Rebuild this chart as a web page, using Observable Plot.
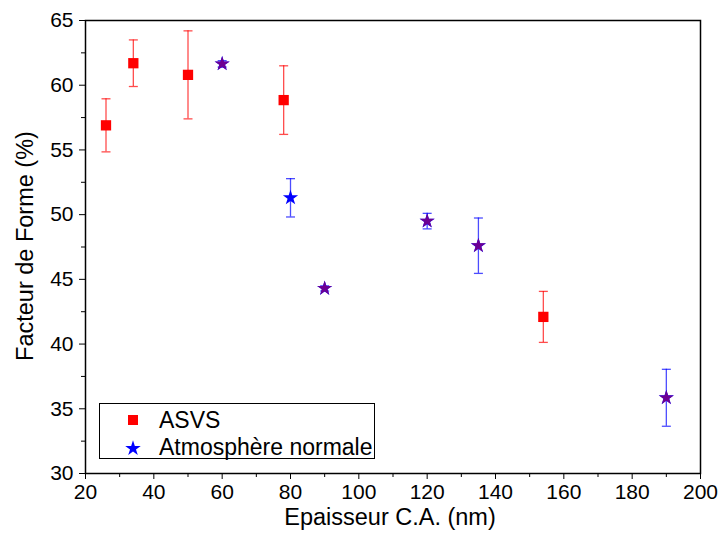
<!DOCTYPE html>
<html><head><meta charset="utf-8">
<script src="https://cdn.jsdelivr.net/npm/d3@7"></script>
<script src="https://cdn.jsdelivr.net/npm/@observablehq/plot@0.6"></script>
<style>
body{margin:0;background:#fff;font-family:"Liberation Sans",Arial,sans-serif}
#wrap{position:relative;width:723px;height:537px;overflow:hidden}
.lbl{position:absolute;font-size:23.5px;line-height:18px;white-space:nowrap;color:#000}
#legend{position:absolute;left:99px;top:403px;width:276px;height:56px;border:1px solid #000;box-sizing:border-box;background:#fff}
#legend svg{position:absolute;left:0;top:0}
</style></head><body><div id="wrap"></div>
<script>
// Data
const asvsX = [26, 34, 50, 78, 154];
const asvsY = [56.9, 61.7, 60.8, 58.85, 42.1];
const asvsErr = [2.05, 1.8, 3.4, 2.65, 1.97];
const atmX = [60, 80, 90, 120, 135, 190];
const atmY = [61.65, 51.3, 44.3, 49.5, 47.6, 35.85];
const atmErr = [0.25, 1.48, 0.2, 0.6, 2.14, 2.2];
const overlapX = [60, 90, 120, 135, 190];
const overlapY = [61.65, 44.3, 49.5, 47.6, 35.85];
const xTicks = [20, 40, 60, 80, 100, 120, 140, 160, 180, 200];
const xMinor = [30, 50, 70, 90, 110, 130, 150, 170, 190];
const yTicks = [30, 35, 40, 45, 50, 55, 60, 65];
const yMinor = [32.5, 37.5, 42.5, 47.5, 52.5, 57.5, 62.5];
const seriesNames = ["ASVS", "Atmosphère normale"];
const xTitle = "Epaisseur C.A. (nm)";
const yTitle = "Facteur de Forme (%)";

const asvs = asvsX.map((x, i) => ({x, y: asvsY[i], lo: asvsY[i] - asvsErr[i], hi: asvsY[i] + asvsErr[i]}));
const atm = atmX.map((x, i) => ({x, y: atmY[i], lo: atmY[i] - atmErr[i], hi: atmY[i] + atmErr[i]}));
const overlap = overlapX.map((x, i) => ({x, y: overlapY[i]}));

const cap = {draw(ctx, size) { const r = Math.sqrt(size / Math.PI); ctx.moveTo(-r, 0); ctx.lineTo(r, 0); }};

function errMarks(data, color) {
  return [
    Plot.ruleX(data, {x: "x", y1: "lo", y2: "hi", stroke: color, strokeOpacity: 0.7, strokeWidth: 1.3}),
    Plot.dot(data, {x: "x", y: "lo", symbol: cap, r: 4.5, stroke: color, strokeOpacity: 0.7, strokeWidth: 1.3, fill: "none"}),
    Plot.dot(data, {x: "x", y: "hi", symbol: cap, r: 4.5, stroke: color, strokeOpacity: 0.7, strokeWidth: 1.3, fill: "none"})
  ];
}

const chart = Plot.plot({
  width: 723, height: 537,
  marginLeft: 85, marginRight: 23, marginTop: 20, marginBottom: 64,
  style: {fontFamily: "Liberation Sans, Arial, sans-serif", fontSize: "21px", color: "#000", background: "#fff"},
  x: {domain: [20, 200]},
  y: {domain: [30, 65]},
  marks: [
    Plot.axisX({ticks: xTicks, tickSize: 6, tickPadding: 5, label: null, fontSize: 21}),
    Plot.axisX({ticks: xMinor, tickSize: 4, tickFormat: () => "", label: null}),
    Plot.axisY({ticks: yTicks, tickSize: 6, tickPadding: 6, label: null, fontSize: 21}),
    Plot.axisY({ticks: yMinor, tickSize: 4, tickFormat: () => "", label: null}),
    ...errMarks(asvs, "#ff0000"),
    ...errMarks(atm, "#0000ff"),
    Plot.dot(asvs, {x: "x", y: "y", symbol: "square", r: 5.8, fill: "#ff0000"}),
    Plot.dot(atm, {x: "x", y: "y", symbol: "star", r: 4.8, fill: "#0000ff"}),
    Plot.dot(overlap, {x: "x", y: "y", symbol: "star", r: 4.6, fill: "#800080", fillOpacity: 0.85}),
    Plot.frame({stroke: "#000", strokeWidth: 1.5})
  ]
});

const wrap = document.getElementById("wrap");
wrap.appendChild(chart);

const xl = document.createElement("div");
xl.className = "lbl"; xl.textContent = xTitle;
xl.style.left = "390px"; xl.style.top = "508px"; xl.style.transform = "translateX(-50%)";
wrap.appendChild(xl);

const yl = document.createElement("div");
yl.className = "lbl"; yl.textContent = yTitle;
yl.style.left = "25px"; yl.style.top = "246px"; yl.style.transform = "translate(-50%,-50%) rotate(-90deg)";
wrap.appendChild(yl);

// Legend
const leg = document.createElement("div");
leg.id = "legend";
const sq = d3.symbol(d3.symbolSquare, 100)();
const st = d3.symbol(d3.symbolStar, 75)();
leg.innerHTML = `<svg width="276" height="56">
<path d="${sq}" transform="translate(33,16)" fill="#ff0000"/>
<path d="${st}" transform="translate(33,44.5)" fill="#0000ff"/>
<text x="59" y="23.5" font-size="23" font-family="Liberation Sans, Arial, sans-serif">${seriesNames[0]}</text>
<text x="59" y="51" font-size="23" font-family="Liberation Sans, Arial, sans-serif">${seriesNames[1]}</text>
</svg>`;
wrap.appendChild(leg);
</script>
</body></html>
